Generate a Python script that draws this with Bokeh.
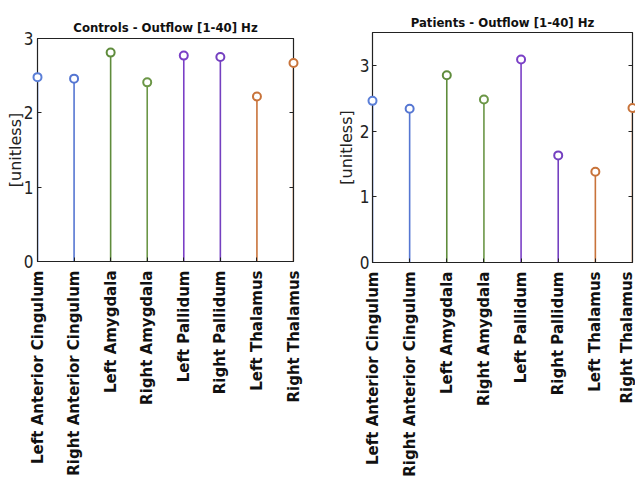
from math import pi

from bokeh.embed import file_html
from bokeh.models import Column, FixedTicker, LinearAxis, Range1d, Row
from bokeh.plotting import figure
from bokeh.resources import INLINE

# Brain regions (one stem each)
regions = [
    "Left Anterior Cingulum",
    "Right Anterior Cingulum",
    "Left Amygdala",
    "Right Amygdala",
    "Left Pallidum",
    "Right Pallidum",
    "Left Thalamus",
    "Right Thalamus",
]
positions = [1, 2, 3, 4, 5, 6, 7, 8]

# Outflow [1-40] Hz, unitless
controls_outflow = [2.48, 2.46, 2.81, 2.41, 2.77, 2.75, 2.22, 2.67]
patients_outflow = [2.46, 2.34, 2.85, 2.48, 3.09, 1.63, 1.38, 2.35]

y_ticks = [0, 1, 2, 3]

# Colour of each stem, paired by structure
stem_colors = [
    "#5b7fd8", "#5576d2",
    "#5f8c3c", "#6b9646",
    "#7a3fc6", "#7440c0",
    "#c8733a", "#c8733a",
]

WIDE_FONT = "DejaVu Sans"
NARROW_FONT = "DejaVu Sans Condensed"


def stem_panel(title, values, y_max, width, border_left, border_right,
               border_top, border_bottom, title_standoff,
               tick_standoff, label_standoff):
    p = figure(
        width=width, height=486,
        x_range=Range1d(1, 8), y_range=Range1d(0, y_max),
        output_backend="svg", toolbar_location=None,
        min_border_left=border_left, min_border_right=border_right,
        min_border_top=border_top, min_border_bottom=border_bottom,
        background_fill_color="white", border_fill_color="white",
    )
    p.grid.visible = False
    p.outline_line_color = "#222222"
    p.outline_line_width = 1.2

    p.title.text = title
    p.title.align = "center"
    p.title.text_font = NARROW_FONT
    p.title.text_font_style = "bold"
    p.title.text_font_size = "13px"
    p.title.text_color = "#111111"
    p.title.standoff = title_standoff

    # stems from zero up to each value, with hollow circle heads
    p.segment(x0=positions, y0=[0] * len(values), x1=positions, y1=values,
              line_color=stem_colors, line_width=1.6)
    p.scatter(x=positions, y=values, marker="circle", size=8,
              fill_color="white", line_color=stem_colors, line_width=2,
              level="overlay")

    # x axis: region names, rotated
    xa = p.xaxis[0]
    xa.ticker = FixedTicker(ticks=positions)
    xa.major_label_overrides = {pos: name for pos, name in zip(positions, regions)}
    xa.major_label_orientation = pi / 2
    xa.major_label_text_font = WIDE_FONT
    xa.major_label_text_font_style = "bold"
    xa.major_label_text_font_size = "15px"
    xa.major_label_text_color = "#111111"
    xa.major_label_standoff = 9
    xa.major_tick_in = 4
    xa.major_tick_out = 0
    xa.minor_tick_line_color = None
    xa.axis_line_color = "#222222"
    xa.major_tick_line_color = "#222222"

    # y axis
    ya = p.yaxis[0]
    ya.ticker = FixedTicker(ticks=y_ticks)
    ya.axis_label = "[unitless]"
    ya.axis_label_text_font = WIDE_FONT
    ya.axis_label_text_font_style = "normal"
    ya.axis_label_text_font_size = "16px"
    ya.axis_label_text_color = "#222222"
    ya.axis_label_standoff = label_standoff
    ya.major_label_text_font = NARROW_FONT
    ya.major_label_text_font_size = "17px"
    ya.major_label_text_color = "#222222"
    ya.major_label_standoff = tick_standoff
    ya.major_tick_in = 4
    ya.major_tick_out = 0
    ya.minor_tick_line_color = None
    ya.axis_line_color = "#222222"
    ya.major_tick_line_color = "#222222"

    # box ticks on the right edge (no labels drawn)
    ax = LinearAxis(ticker=FixedTicker(ticks=y_ticks),
                    major_label_text_color=None,
                    major_label_text_font_size="1px",
                    major_label_standoff=0,
                    major_tick_in=4, major_tick_out=0,
                    minor_tick_line_color=None,
                    axis_line_color="#222222",
                    major_tick_line_color="#222222")
    p.add_layout(ax, "right")
    return p


left = stem_panel("Controls - Outflow [1-40] Hz", controls_outflow, 3.0,
                  width=318, border_left=37, border_right=25,
                  border_top=38, border_bottom=225, title_standoff=7,
                  tick_standoff=4, label_standoff=-4)
right = stem_panel("Patients - Outflow [1-40] Hz", patients_outflow, 3.5,
                   width=317, border_left=54, border_right=3,
                   border_top=32, border_bottom=224, title_standoff=6,
                   tick_standoff=3, label_standoff=1)

# each panel keeps its own borders
layout = Row(children=[Column(children=[left]), Column(children=[right])],
             spacing=0)

open("out.html", "w").write(file_html(layout, INLINE))
